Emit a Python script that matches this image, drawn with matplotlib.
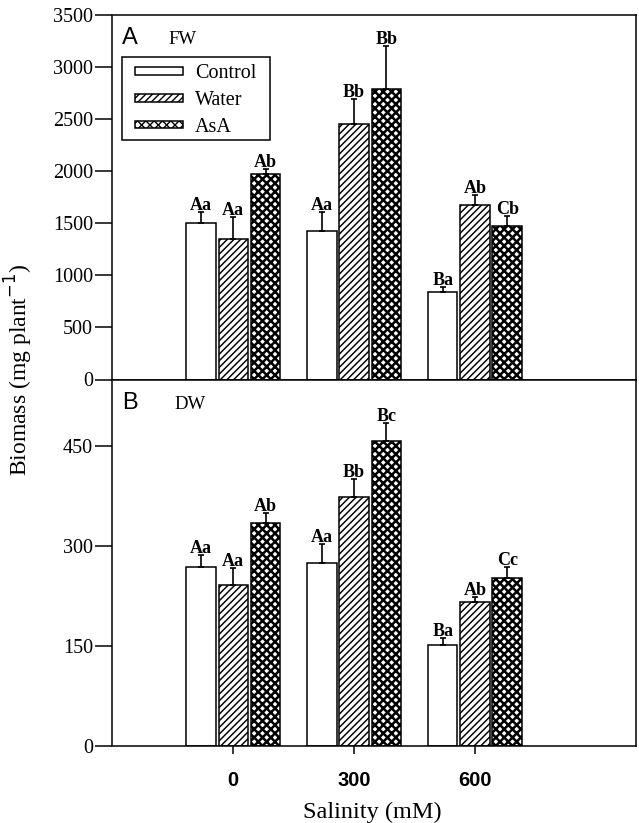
import matplotlib
matplotlib.use("Agg")
import matplotlib.pyplot as plt
from matplotlib.patches import Rectangle
import numpy as np

# ---------------- data ----------------
salinity = [0, 300, 600]
salinity_labels = ["0", "300", "600"]
treatments = ["Control", "Water", "AsA"]

fw_control = [1497, 1426, 843]
fw_water = [1343, 2452, 1670]
fw_asa = [1968, 2782, 1474]
fw_control_err = [112, 183, 44]
fw_water_err = [218, 240, 99]
fw_asa_err = [51, 413, 93]
fw_control_lab = ["Aa", "Aa", "Ba"]
fw_water_lab = ["Aa", "Bb", "Ab"]
fw_asa_lab = ["Ab", "Bb", "Cb"]

dw_control = [269, 274, 151]
dw_water = [241, 374, 216]
dw_asa = [334, 458, 252]
dw_control_err = [17, 29, 11]
dw_water_err = [26, 27, 8]
dw_asa_err = [15, 26, 16]
dw_control_lab = ["Aa", "Aa", "Ba"]
dw_water_lab = ["Aa", "Bb", "Ab"]
dw_asa_lab = ["Ab", "Bc", "Cc"]

fw_yticks = [0, 500, 1000, 1500, 2000, 2500, 3000, 3500]
dw_yticks = [0, 150, 300, 450]

# ---------------- style ----------------
SERIF = ["Liberation Serif", "DejaVu Serif"]
SANS = ["Liberation Sans", "DejaVu Sans"]
plt.rcParams["font.family"] = SERIF
plt.rcParams["axes.linewidth"] = 1.1

W, H = 639, 823
fig = plt.figure(figsize=(W / 100, H / 100), dpi=100)

left = 112.5 / W
right = 636 / W
ax_top = fig.add_axes([left, 1 - 379.5 / H, right - left, (379.5 - 14.5) / H])
ax_bot = fig.add_axes([left, 1 - 746 / H, right - left, (746 - 379.5) / H])

offsets = [-80, 0, 80]
bar_w = 73
hatches = [None, "/////", "xxxx"]
hatch_lws = [1.0, 1.05, 1.8]


def draw_panel(ax, vals, errs, labs, ylim, yticks):
    handles = []
    for i in range(3):
        x = np.array(salinity) + offsets[i]
        with plt.rc_context({"hatch.linewidth": hatch_lws[i]}):
            b = ax.bar(x, vals[i], width=bar_w, facecolor="white", edgecolor="black",
                       linewidth=1.1, hatch=hatches[i], zorder=2, label=treatments[i])
        handles.append(b)
        ax.errorbar(x, vals[i], yerr=[np.zeros(3), errs[i]], fmt="none",
                    ecolor="black", elinewidth=1.2, capsize=2, capthick=1.2, zorder=3)
        for xi, v, e, t in zip(x, vals[i], errs[i], labs[i]):
            ax.annotate(t, (xi, v + e), xytext=(0, 1.5), textcoords="offset points",
                        ha="center", va="baseline", fontsize=13, fontweight="bold",
                        family=SERIF, zorder=4)
    ax.set_xlim(-300, 1000)
    ax.set_ylim(*ylim)
    ax.set_yticks(yticks)
    ax.set_yticklabels([str(t) for t in yticks], fontsize=14.5, family=SERIF)
    ax.set_xticks(salinity)
    ax.tick_params(axis="y", direction="out", length=12, width=1.1, pad=2)
    ax.tick_params(axis="x", direction="out", length=6, width=1.1)
    return handles


h = draw_panel(ax_top, [fw_control, fw_water, fw_asa],
               [fw_control_err, fw_water_err, fw_asa_err],
               [fw_control_lab, fw_water_lab, fw_asa_lab], (0, 3500), fw_yticks)
ax_top.set_xticklabels([])

draw_panel(ax_bot, [dw_control, dw_water, dw_asa],
           [dw_control_err, dw_water_err, dw_asa_err],
           [dw_control_lab, dw_water_lab, dw_asa_lab], (0, 550), dw_yticks)
ax_bot.set_xticklabels(salinity_labels, fontsize=14.5, fontweight="bold", family=SANS)
ax_bot.tick_params(axis="x", pad=12)

# legend (frame drawn separately)
ax_w, ax_h = 523.5, 365.0
leg = ax_top.legend(handles=h, loc="upper left",
                    bbox_to_anchor=((135 - 112.5) / ax_w, 1 - (64.5 - 14.5) / ax_h),
                    borderaxespad=0, frameon=False, handlelength=2.39, handleheight=0.2,
                    handletextpad=0.6, labelspacing=0.38, borderpad=0,
                    prop={"family": SERIF, "size": 14.5})
leg.set_zorder(6)
ax_top.add_patch(Rectangle(((122 - 112.5) / ax_w, 1 - (140 - 14.5) / ax_h),
                           148 / ax_w, 83.3 / ax_h, transform=ax_top.transAxes,
                           facecolor="white", edgecolor="black", linewidth=1.1, zorder=5))

# panel labels
fig.text(122 / W, 1 - 43.5 / H, "A", fontsize=17, family=SANS, ha="left", va="baseline")
fig.text(168 / W, 1 - 43.5 / H, "FW", fontsize=13.5, family=SERIF, ha="left", va="baseline")
fig.text(122 / W, 1 - 409 / H, "B", fontsize=17, family=SANS, ha="left", va="baseline")
fig.text(174 / W, 1 - 409 / H, "DW", fontsize=13.5, family=SERIF, ha="left", va="baseline")

# axis labels
fig.text(19 / W, 1 - 370 / H, "Biomass (mg plant$^{-1}$)", rotation=90, fontsize=17,
         family=SERIF, ha="center", va="center")
fig.text(372 / W, 1 - 812 / H, "Salinity (mM)", fontsize=17.5, family=SERIF,
         ha="center", va="center")

fig.savefig("out.png", dpi=100)
